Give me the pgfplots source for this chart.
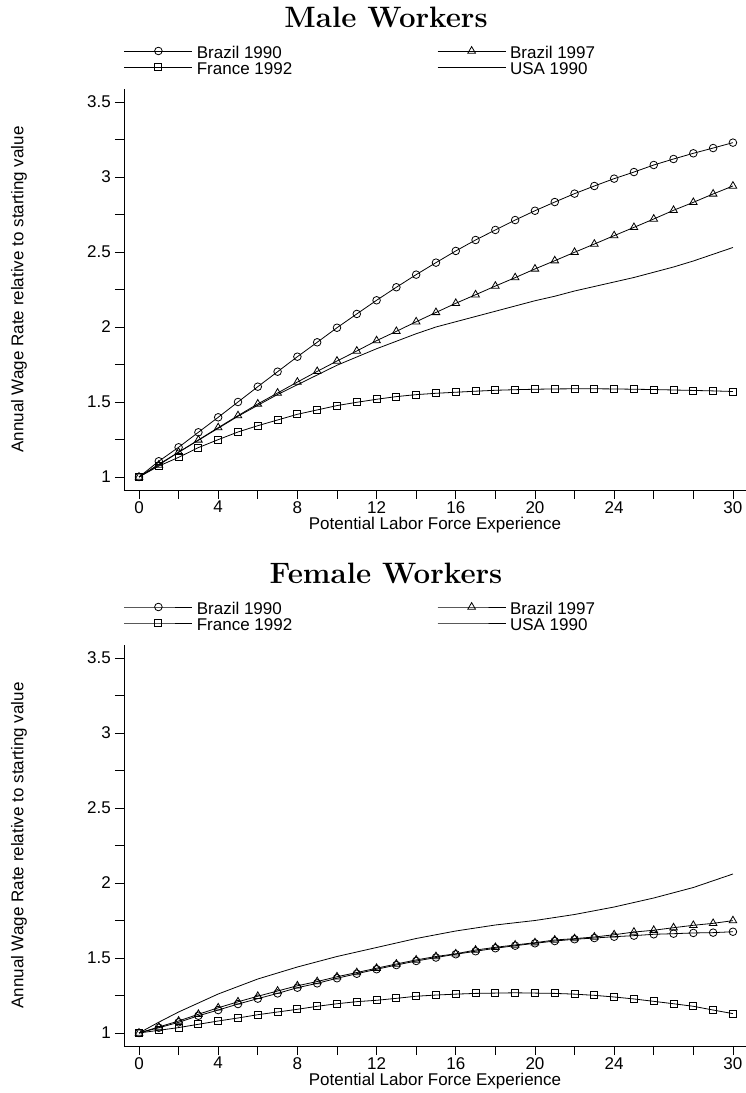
\documentclass[border=0pt]{standalone}
\usepackage{fontspec}
\setsansfont{Liberation Sans}
\usepackage{pgfplots}
\pgfplotsset{compat=1.18}
\newcommand{\lab}{\fontsize{17}{20}\selectfont\sffamily}
\pgfplotsset{
  panel/.style={
    scale only axis, width=622pt, height=401pt,
    xmin=-0.758, xmax=30.66, ymin=0.9133, ymax=3.5867,
    axis x line=bottom, axis y line=left,
    axis line style={-, line width=0.8pt, black},
    xtick={0,4,8,12,16,20,24,30}, minor xtick={2,6,10,14,18,22,26,28},
    ytick={1,1.5,2,2.5,3,3.5}, minor ytick={1.25,1.75,2.25,2.75,3.25},
    tick align=outside, major tick length=9pt, minor tick length=9pt,
    every tick/.style={line width=0.8pt, black},
    /pgf/number format/assume math mode=true,
    ticklabel style={font=\lab},
    xticklabel style={inner sep=2pt},
    yticklabel style={inner sep=4pt},
    xlabel={Potential Labor Force Experience},
    ylabel={Annual Wage Rate relative to starting value},
    label style={font=\lab},
    xlabel style={at={(axis description cs:0.5,0)}, anchor=center, yshift=-35pt},
    ylabel style={at={(axis description cs:-0.1688,0.5)}, anchor=center},
    legend columns=2,
    legend cell align=left,
    legend style={draw=none, fill=none, inner sep=0pt, outer sep=0pt,
      at={(0,1)}, anchor=south west, yshift=10pt,
      nodes={inner sep=0pt, font=\lab, text height=12pt, text depth=4pt},
      /tikz/every odd column/.append style={column sep=4pt},
      /tikz/every even column/.append style={column sep=145pt}},
    legend image code/.code={\draw[mark repeat=2,mark phase=2,##1] plot coordinates {(0pt,4pt)(34pt,4pt)(68pt,4pt)};},
  },
  ser/.style={black, line width=0.8pt, mark options={solid, line width=0.8pt}},
  circ/.style={ser, mark=o, mark size=3.8pt},
  tri/.style={ser, mark=triangle, mark size=4.4pt},
  sq/.style={ser, mark=square, mark size=3.5pt},
  usa/.style={ser, no marks},
}
\begin{document}
\begin{tikzpicture}
\useasboundingbox (0,0) rectangle (746pt,1093pt);
% ---------------- Male
\node[font=\fontsize{29.5}{34}\selectfont\bfseries, anchor=base] at (386pt,1065pt) {Male Workers};
\begin{axis}[panel, at={(124pt,603pt)}, anchor=south west]
\addplot[circ] coordinates {(0,1)(1,1.105)(2,1.198)(3,1.298)(4,1.398)(5,1.5)(6,1.602)(7,1.702)(8,1.802)(9,1.898)(10,1.995)(11,2.087)(12,2.178)(13,2.265)(14,2.349)(15,2.429)(16,2.507)(17,2.58)(18,2.647)(19,2.713)(20,2.775)(21,2.833)(22,2.889)(23,2.94)(24,2.989)(25,3.033)(26,3.08)(27,3.12)(28,3.158)(29,3.193)(30,3.229)};
\addlegendentry{Brazil 1990}
\addplot[tri] coordinates {(0,1)(1,1.08)(2,1.165)(3,1.247)(4,1.329)(5,1.409)(6,1.487)(7,1.56)(8,1.633)(9,1.704)(10,1.773)(11,1.84)(12,1.909)(13,1.971)(14,2.035)(15,2.097)(16,2.158)(17,2.215)(18,2.273)(19,2.329)(20,2.387)(21,2.442)(22,2.498)(23,2.553)(24,2.609)(25,2.664)(26,2.72)(27,2.778)(28,2.831)(29,2.887)(30,2.94)};
\addlegendentry{Brazil 1997}
\addplot[sq] coordinates {(0,1)(1,1.073)(2,1.131)(3,1.196)(4,1.249)(5,1.3)(6,1.342)(7,1.38)(8,1.418)(9,1.447)(10,1.476)(11,1.498)(12,1.518)(13,1.536)(14,1.549)(15,1.558)(16,1.565)(17,1.572)(18,1.578)(19,1.582)(20,1.585)(21,1.587)(22,1.588)(23,1.588)(24,1.587)(25,1.585)(26,1.583)(27,1.58)(28,1.577)(29,1.574)(30,1.57)};
\addlegendentry{France 1992}
\addplot[usa] coordinates {(0,1)(1,1.085)(2,1.165)(3,1.245)(4,1.325)(5,1.405)(6,1.478)(7,1.55)(8,1.615)(9,1.68)(10,1.745)(11,1.80)(12,1.855)(13,1.905)(14,1.955)(15,2.0)(16,2.035)(17,2.07)(18,2.105)(19,2.14)(20,2.175)(21,2.205)(22,2.24)(23,2.27)(24,2.30)(25,2.33)(26,2.365)(27,2.40)(28,2.44)(29,2.485)(30,2.53)};
\addlegendentry{USA 1990}
\end{axis}
% ---------------- Female
\node[font=\fontsize{29.5}{34}\selectfont\bfseries, anchor=base] at (386pt,509pt) {Female Workers};
\begin{axis}[panel, at={(124pt,47pt)}, anchor=south west]
\addplot[circ] coordinates {(0,1)(1,1.035)(2,1.071)(3,1.115)(4,1.153)(5,1.193)(6,1.229)(7,1.264)(8,1.302)(9,1.331)(10,1.365)(11,1.395)(12,1.425)(13,1.453)(14,1.48)(15,1.503)(16,1.525)(17,1.545)(18,1.565)(19,1.582)(20,1.598)(21,1.613)(22,1.625)(23,1.633)(24,1.642)(25,1.649)(26,1.658)(27,1.662)(28,1.667)(29,1.669)(30,1.675)};
\addlegendentry{Brazil 1990}
\addplot[tri] coordinates {(0,1)(1,1.04)(2,1.08)(3,1.125)(4,1.168)(5,1.208)(6,1.245)(7,1.28)(8,1.315)(9,1.343)(10,1.375)(11,1.403)(12,1.432)(13,1.46)(14,1.487)(15,1.51)(16,1.528)(17,1.553)(18,1.571)(19,1.587)(20,1.602)(21,1.62)(22,1.629)(23,1.64)(24,1.655)(25,1.673)(26,1.685)(27,1.702)(28,1.718)(29,1.731)(30,1.749)};
\addlegendentry{Brazil 1997}
\addplot[sq] coordinates {(0,1)(1,1.018)(2,1.036)(3,1.058)(4,1.08)(5,1.1)(6,1.122)(7,1.14)(8,1.158)(9,1.178)(10,1.195)(11,1.209)(12,1.218)(13,1.231)(14,1.245)(15,1.253)(16,1.259)(17,1.264)(18,1.266)(19,1.268)(20,1.266)(21,1.264)(22,1.259)(23,1.251)(24,1.24)(25,1.227)(26,1.211)(27,1.195)(28,1.178)(29,1.153)(30,1.129)};
\addlegendentry{France 1992}
\addplot[usa] coordinates {(0,1)(1,1.072)(2,1.14)(3,1.20)(4,1.26)(5,1.31)(6,1.36)(7,1.40)(8,1.44)(9,1.475)(10,1.51)(11,1.54)(12,1.57)(13,1.60)(14,1.63)(15,1.655)(16,1.68)(17,1.70)(18,1.72)(19,1.735)(20,1.75)(21,1.77)(22,1.79)(23,1.815)(24,1.84)(25,1.87)(26,1.90)(27,1.935)(28,1.97)(29,2.015)(30,2.06)};
\addlegendentry{USA 1990}
\end{axis}
\end{tikzpicture}
\end{document}
